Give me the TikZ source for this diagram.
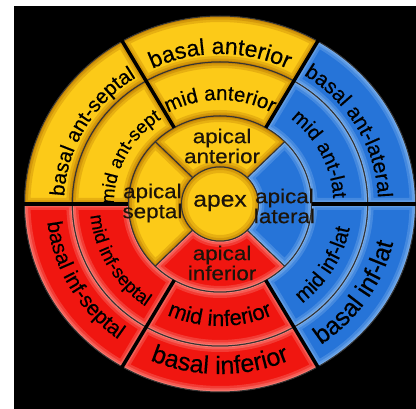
\documentclass[tikz,border=0pt]{standalone}
\usepackage{fontspec}
\usepackage{tikz}
\usetikzlibrary{decorations.text}
\newfontfamily\segfont{Liberation Sans}[FakeBold=0.4]
\newfontfamily\widefont{Liberation Sans}[FakeStretch=1.12, FakeBold=0.4]
\newcommand{\aptxt}{\widefont\fontsize{20}{20}\selectfont}
\definecolor{yel}{RGB}{252,202,24}
\definecolor{yeledge}{RGB}{170,100,0}
\definecolor{blu}{RGB}{38,116,216}
\definecolor{bluedge}{RGB}{160,200,245}
\definecolor{rd}{RGB}{240,22,16}
\definecolor{rdedge}{RGB}{255,170,160}
\definecolor{ink}{RGB}{28,20,10}
\newcommand{\segpath}[4]{(#1:#3) arc[start angle=#1, end angle=#2, radius=#3] -- (#2:#4) arc[start angle=#2, end angle=#1, radius=#4] -- cycle}
\newcommand{\seg}[6]{%
  \begin{scope}
    \clip \segpath{#1}{#2}{#3}{#4};
    \fill[#5] \segpath{#1}{#2}{#3}{#4};
    \draw[#6, line width=12pt, opacity=.25] \segpath{#1}{#2}{#3}{#4};
    \draw[#6, line width=7pt, opacity=.3] \segpath{#1}{#2}{#3}{#4};
    \draw[#6, line width=3pt, opacity=.4] \segpath{#1}{#2}{#3}{#4};
  \end{scope}
  \draw[rim] \segpath{#1}{#2}{#3}{#4};}
\begin{document}
\begin{tikzpicture}[x=1.04pt,y=1pt,
  rim/.style={draw=black!80, line width=1pt},
  sep/.style={black, line width=3.5pt},
  lab/.style={font=\aptxt, text=ink, align=center, inner sep=0pt},
  curved/.style={color=ink, decorate, decoration={text along path, text align=center, text={#1}}}]
\useasboundingbox (-220pt,-205pt) rectangle (196pt,204pt);
\fill[white] (-220pt,-205pt) rectangle (196pt,204pt);
\fill[black] (-206pt,-205pt) rectangle (196pt,198pt);
% basal ring
\seg{60}{120}{142}{188}{yel}{yeledge}
\seg{120}{180}{142}{188}{yel}{yeledge}
\seg{180}{240}{142}{188}{rd}{rdedge}
\seg{240}{300}{142}{188}{rd}{rdedge}
\seg{300}{360}{142}{188}{blu}{bluedge}
\seg{0}{60}{142}{188}{blu}{bluedge}
% mid ring
\seg{60}{120}{88}{142}{yel}{yeledge}
\seg{120}{180}{88}{142}{yel}{yeledge}
\seg{180}{240}{88}{142}{rd}{rdedge}
\seg{240}{300}{88}{142}{rd}{rdedge}
\seg{300}{360}{88}{142}{blu}{bluedge}
\seg{0}{60}{88}{142}{blu}{bluedge}
% apical ring
\seg{45}{135}{37}{88}{yel}{yeledge}
\seg{135}{225}{37}{88}{yel}{yeledge}
\seg{225}{315}{37}{88}{rd}{rdedge}
\seg{315}{405}{37}{88}{blu}{bluedge}
% apex
\begin{scope}
  \clip (0,0) circle[radius=37];
  \fill[yel] (0,0) circle[radius=37];
  \draw[yeledge, line width=12pt, opacity=.25] (0,0) circle[radius=37];
  \draw[yeledge, line width=6pt, opacity=.3] (0,0) circle[radius=37];
\end{scope}
\draw[rim] (0,0) circle[radius=37];
\draw[sep, line width=4.5pt] (180:88) -- (180:189);
\draw[sep, line width=4.5pt] (0:88) -- (0:189);
\draw[sep] (60:88) -- (60:189);
\draw[sep] (120:88) -- (120:189);
\draw[sep] (240:88) -- (240:189);
\draw[sep] (300:88) -- (300:189);
% labels
\path[curved={|\segfont\fontsize{23}{23}\selectfont|basal anterior}] (130:150) arc[start angle=130, end angle=50, radius=150];
\path[curved={|\segfont\fontsize{20.5}{21}\selectfont|basal ant-septal}] (190:150) arc[start angle=190, end angle=110, radius=150];
\path[curved={|\segfont\fontsize{21}{21}\selectfont|basal ant-lateral}] (70:152) arc[start angle=70, end angle=-10, radius=152];
\path[curved={|\segfont\fontsize{21}{21}\selectfont|basal inf-septal}] (170:167) arc[start angle=170, end angle=250, radius=167];
\path[curved={|\segfont\fontsize{25}{25}\selectfont|basal inferior}] (230:170) arc[start angle=230, end angle=310, radius=170];
\path[curved={|\segfont\fontsize{25}{25}\selectfont|basal inf-lat}] (286:171) arc[start angle=286, end angle=366, radius=171];
\path[curved={|\segfont\fontsize{20.5}{21}\selectfont|mid anterior}] (130:104) arc[start angle=130, end angle=50, radius=104];
\path[curved={|\segfont\fontsize{18.5}{19}\selectfont|mid ant-sept}] (192:102) arc[start angle=192, end angle=112, radius=102];
\path[curved={|\segfont\fontsize{20}{20}\selectfont|mid ant-lat}] (67:109) arc[start angle=67, end angle=-13, radius=109];
\path[curved={|\segfont\fontsize{18.5}{19}\selectfont|mid inf-septal}] (170:125) arc[start angle=170, end angle=250, radius=125];
\path[curved={|\segfont\fontsize{22}{22}\selectfont|mid inferior}] (230:122) arc[start angle=230, end angle=310, radius=122];
\path[curved={|\segfont\fontsize{21}{21}\selectfont|mid inf-lat}] (289:127) arc[start angle=289, end angle=369, radius=127];
\node[lab] (apant) at (2,58) {apical\\anterior};
\node[lab] (apsep) at (-65,1) {apical\\septal};
\node[lab] (aplat) at (62,-2) {apical\\lateral};
\node[lab] (apinf) at (2,-59) {apical\\inferior};
\node[lab, font=\widefont\fontsize{22}{22}\selectfont] (apex) at (0,1) {apex};
\end{tikzpicture}
\end{document}
